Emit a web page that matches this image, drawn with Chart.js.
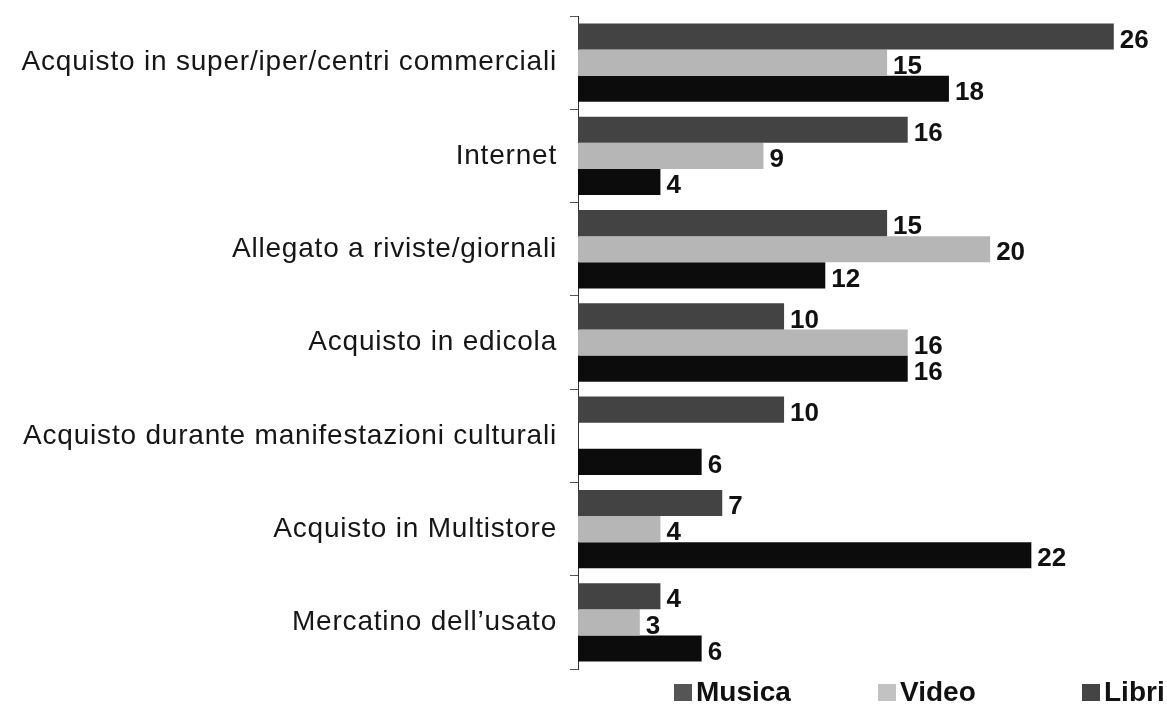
<!DOCTYPE html>
<html>
<head>
<meta charset="utf-8">
<script src="https://cdn.jsdelivr.net/npm/chart.js@4/dist/chart.umd.min.js"></script>
<style>
    html, body { margin: 0; padding: 0; background: #fff; }
    #wrap { width: 1167px; height: 720px; }
</style>
</head>
<body>
<div id="wrap"><canvas id="canaliChart"></canvas></div>
<script>
const categories = [
    'Acquisto in super/iper/centri commerciali',
    'Internet',
    'Allegato a riviste/giornali',
    'Acquisto in edicola',
    'Acquisto durante manifestazioni culturali',
    'Acquisto in Multistore',
    'Mercatino dell\u2019usato'
];
const seriesNames = ['Musica', 'Video', 'Libri'];
const musica = [26, 16, 15, 10, 10, 7, 4];
const video = [15, 9, 20, 16, null, 4, 3];
const libri = [18, 4, 12, 16, 6, 22, 6];
const xMax = 28;

const colors = ['#434343', '#b6b6b6', '#0c0c0c'];
const legendColors = ['#555555', '#c2c2c2', '#444444'];

// value labels at the end of each bar
const barLabels = {
    id: 'barLabels',
    afterDatasetsDraw(chart) {
        const ctx = chart.ctx;
        ctx.save();
        ctx.letterSpacing = '0px';
        ctx.font = 'bold 26px "Liberation Sans", Arial, sans-serif';
        ctx.fillStyle = '#111';
        ctx.textAlign = 'left';
        ctx.textBaseline = 'middle';
        chart.data.datasets.forEach(function(ds, i) {
            chart.getDatasetMeta(i).data.forEach(function(bar, j) {
                const v = ds.data[j];
                if (v === null || v === undefined) return;
                ctx.fillText(String(v), bar.x + 6, bar.y + 4);
            });
        });
        ctx.restore();
    }
};

// legend under the plot, spaced like the original
const bottomLegend = {
    id: 'bottomLegend',
    afterDraw(chart) {
        const ctx = chart.ctx;
        const area = chart.chartArea;
        ctx.save();
        ctx.letterSpacing = '0px';
        ctx.font = 'bold 28px "Liberation Sans", Arial, sans-serif';
        ctx.textBaseline = 'middle';
        ctx.textAlign = 'left';
        const y = area.bottom + 23;
        seriesNames.forEach(function(name, i) {
            const x = area.left + 96 + i * 204;
            ctx.fillStyle = legendColors[i];
            ctx.fillRect(x, y - 8, 18, 17);
            ctx.fillStyle = '#111';
            ctx.fillText(name, x + 22, y + 1);
        });
        ctx.restore();
    }
};

const spacing = {
    id: 'spacing',
    beforeDraw(chart) {
        chart.ctx.letterSpacing = '0.8px';
    },
    beforeDatasetsDraw(chart) {
        chart.ctx.letterSpacing = '0px';
    }
};

const ctx = document.getElementById('canaliChart').getContext('2d');
new Chart(ctx, {
    type: 'bar',
    data: {
        labels: categories,
        datasets: [
            { label: seriesNames[0], data: musica, backgroundColor: colors[0] },
            { label: seriesNames[1], data: video, backgroundColor: colors[1] },
            { label: seriesNames[2], data: libri, backgroundColor: colors[2] }
        ]
    },
    options: {
        indexAxis: 'y',
        responsive: true,
        maintainAspectRatio: false,
        animation: false,
        layout: { padding: { top: 16, bottom: 51, right: 12, left: 0 } },
        datasets: {
            bar: { categoryPercentage: 0.84, barPercentage: 1.0 }
        },
        plugins: {
            legend: { display: false },
            tooltip: { enabled: false }
        },
        scales: {
            x: {
                display: false,
                min: 0,
                max: xMax
            },
            y: {
                afterFit: function(scale) {
                    scale.width = 578;
                    scale.paddingTop = 0;
                    scale.paddingBottom = 0;
                },
                grid: {
                    drawOnChartArea: false,
                    drawTicks: true,
                    tickLength: 8,
                    color: '#555'
                },
                border: { display: true, color: '#333', width: 1 },
                ticks: {
                    padding: 13,
                    color: '#161616',
                    font: { family: '"Liberation Sans", Arial, sans-serif', size: 28 }
                }
            }
        }
    },
    plugins: [spacing, barLabels, bottomLegend]
});
</script>
</body>
</html>
